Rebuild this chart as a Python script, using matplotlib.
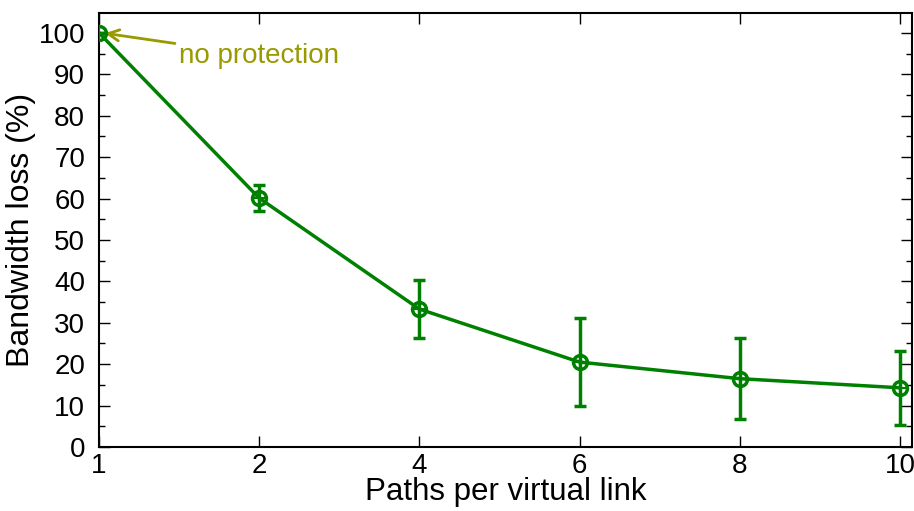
import matplotlib
matplotlib.use("Agg")
import matplotlib.pyplot as plt
from matplotlib.ticker import MultipleLocator

plt.rcParams['font.family'] = ['Liberation Sans', 'DejaVu Sans']

# paths per virtual link vs. bandwidth loss
paths = ["1", "2", "4", "6", "8", "10"]
loss = [100.0, 60.1, 33.3, 20.5, 16.5, 14.3]
err_low = [0.0, 3.1, 7.0, 10.6, 9.7, 9.0]
err_high = [0.0, 3.2, 7.0, 10.6, 9.8, 8.9]

green = "#008000"
olive = "#999900"

fig = plt.figure(figsize=(9.14, 5.11), dpi=100)
ax = fig.add_axes([99 / 914, 1 - 447 / 511, (912 - 99) / 914, (447 - 13) / 511])

xs = list(range(len(paths)))
ax.errorbar(xs, loss, yerr=[err_low, err_high], color=green, lw=2.5,
            marker="o", ms=10, mfc="none", mew=2.5, capsize=4, capthick=2.5,
            elinewidth=2.5, zorder=3)
# small cross inside each circle
ax.plot(xs, loss, ls="none", marker="+", ms=8, mew=1.5, color=green, zorder=4)

ax.annotate("no protection", xy=(xs[0] + 0.02, loss[0]), xytext=(0.5, 94.5),
            color=olive, fontsize=20, va="center", ha="left",
            arrowprops=dict(arrowstyle="->", color=olive, lw=2,
                            shrinkA=1, shrinkB=2))

ax.set_xlim(0, 5.075)
ax.set_ylim(0, 104.8)
ax.set_xticks(xs)
ax.set_xticklabels(paths)
ax.yaxis.set_major_locator(MultipleLocator(10))
ax.yaxis.set_minor_locator(MultipleLocator(5))
ax.tick_params(which="both", direction="in", top=True, right=True,
               labelsize=20, width=1)
ax.tick_params(which="major", length=8)
ax.tick_params(which="minor", length=4)
ax.tick_params(axis="y", pad=10)
ax.tick_params(axis="x", pad=4)
for s in ax.spines.values():
    s.set_linewidth(1.5)

ax.set_xlabel("Paths per virtual link", fontsize=22.5, labelpad=-1)
ax.set_ylabel("Bandwidth loss (%)", fontsize=23, labelpad=2)

fig.savefig("out.png", dpi=100)
